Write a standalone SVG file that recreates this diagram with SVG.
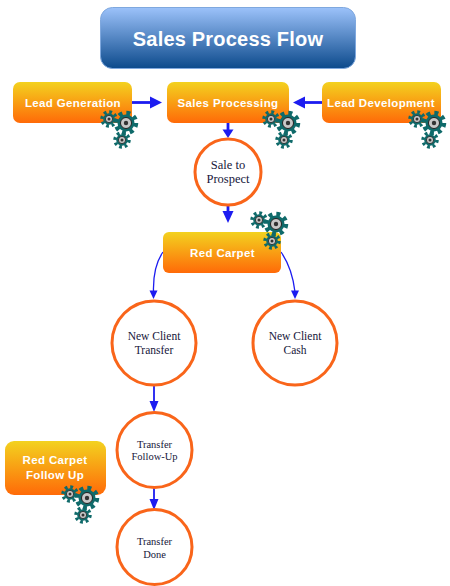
<svg xmlns="http://www.w3.org/2000/svg" width="450" height="586" viewBox="0 0 450 586">
<style>
.box{fill:url(#orange)}
.bt{font-family:"Liberation Sans",Arial,sans-serif;font-weight:bold;font-size:11.500px;fill:#fff;text-anchor:middle;letter-spacing:.35px}
.c{fill:#fff;stroke:#f9651a;stroke-width:3}
.ct{font-family:"Liberation Serif","Times New Roman",serif;font-size:11.500px;fill:#16163a;text-anchor:middle}
.thick{fill:none;stroke:#1c1cf0;stroke-width:2.800}
.mid{fill:none;stroke:#1c1cf0;stroke-width:1.800}
.thin{fill:none;stroke:#1c1cf0;stroke-width:1.300}
.head{fill:#1c1cf0}
</style>
<defs>
<linearGradient id="orange" x1="0" y1="0" x2="0" y2="1"><stop offset="0" stop-color="#f3d21f"/><stop offset="1" stop-color="#ff6a08"/></linearGradient>
<linearGradient id="blue" x1="0" y1="0" x2="0" y2="1"><stop offset="0" stop-color="#9cc2fa"/><stop offset="1" stop-color="#0c4a8c"/></linearGradient>
<g id="gear-big"><circle r="10" fill="none" stroke="#0f6a6a" stroke-width="4.500" stroke-dasharray="3.930 3.930"/><circle r="8.500" fill="#0f6a6a"/><circle r="5.500" fill="#c8c8c8" stroke="#222" stroke-width="1"/><circle r="2.200" fill="#333"/></g>
<g id="gear-small"><circle r="7" fill="none" stroke="#0f6a6a" stroke-width="3.500" stroke-dasharray="2.750 2.750"/><circle r="5.800" fill="#0f6a6a"/><circle r="3.600" fill="#c8c8c8" stroke="#222" stroke-width=".8"/><circle r="1.500" fill="#333"/></g>
<g id="gears"><use href="#gear-small" x="-17" y="-4"/><use href="#gear-big"/><use href="#gear-small" x="-4" y="17"/></g>
</defs>
<rect width="450" height="586" fill="#fff"/>
<g id="connectors">
<path class="thick" d="M130 102.500H152"/><path class="head" d="M150 96.500L162 102.500L150 108.500Z"/>
<path class="thick" d="M323 102.500H303"/><path class="head" d="M305 96.500L293 102.500L305 108.500Z"/>
<path class="thick" d="M228 122V131"/><path class="head" d="M222.500 129.500L228 138L233.500 129.500Z"/>
<path class="thick" d="M228 204V213"/><path class="head" d="M222.500 211L228 223L233.500 211Z"/>
<path class="thin" d="M163 252C156 262 153 275 153.500 292"/><path class="head" d="M149.500 290.500L153.500 299L157.500 290.500Z"/>
<path class="thin" d="M281 252C288 262 293 275 295 292"/><path class="head" d="M291 290.500L295 299L299 290.500Z"/>
<path class="mid" d="M154 385V403"/><path class="head" d="M149.500 401L154 412L158.500 401Z"/>
<path class="mid" d="M154 487V501"/><path class="head" d="M149.500 499L154 510L158.500 499Z"/>
</g>
<g id="title"><rect x="100.500" y="7.500" width="255" height="61" rx="12" fill="url(#blue)" stroke="#7fa8de"/><text x="228" y="45.500" font-family="'Liberation Sans',Arial,sans-serif" font-weight="bold" font-size="20px" fill="#fff" text-anchor="middle" letter-spacing=".2">Sales Process Flow</text></g>
<g id="lead-generation"><rect class="box" x="13" y="82" width="119" height="41" rx="7"/><text class="bt" x="73" y="107">Lead Generation</text><use href="#gears" x="126" y="123"/></g>
<g id="sales-processing"><rect class="box" x="167" y="82" width="122" height="41" rx="7"/><text class="bt" x="228" y="107">Sales Processing</text><use href="#gears" x="288" y="123"/></g>
<g id="lead-development"><rect class="box" x="322" y="82" width="119" height="41" rx="7"/><text class="bt" x="381" y="107">Lead Development</text><use href="#gears" x="434" y="123"/></g>
<g id="sale-to-prospect"><circle class="c" cx="228" cy="172" r="33"/><text class="ct" x="228" y="169" font-size="12.500" style="font-size:12.500px">Sale to</text><text class="ct" x="228" y="183" style="font-size:12.500px">Prospect</text></g>
<g id="red-carpet"><rect class="box" x="163" y="232" width="118" height="41" rx="6"/><text class="bt" x="222.500" y="257">Red Carpet</text><use href="#gears" x="276" y="224"/></g>
<g id="new-client-transfer"><circle class="c" cx="154" cy="343" r="42"/><text class="ct" x="154" y="340">New Client</text><text class="ct" x="154" y="354">Transfer</text></g>
<g id="new-client-cash"><circle class="c" cx="295" cy="343" r="42"/><text class="ct" x="295" y="340">New Client</text><text class="ct" x="295" y="354">Cash</text></g>
<g id="transfer-follow-up"><circle class="c" cx="154.500" cy="450" r="37.500"/><text class="ct" x="154.500" y="448" style="font-size:10.500px">Transfer</text><text class="ct" x="154.500" y="460" style="font-size:10.500px">Follow-Up</text></g>
<g id="red-carpet-follow-up"><rect class="box" x="5" y="441" width="101" height="54" rx="9"/><text class="bt" x="55" y="464">Red Carpet</text><text class="bt" x="55" y="479">Follow Up</text><use href="#gears" x="87" y="498"/></g>
<g id="transfer-done"><circle class="c" cx="154.500" cy="547" r="37.500"/><text class="ct" x="154.500" y="545" style="font-size:10.500px">Transfer</text><text class="ct" x="154.500" y="558" style="font-size:10.500px">Done</text></g>
</svg>
